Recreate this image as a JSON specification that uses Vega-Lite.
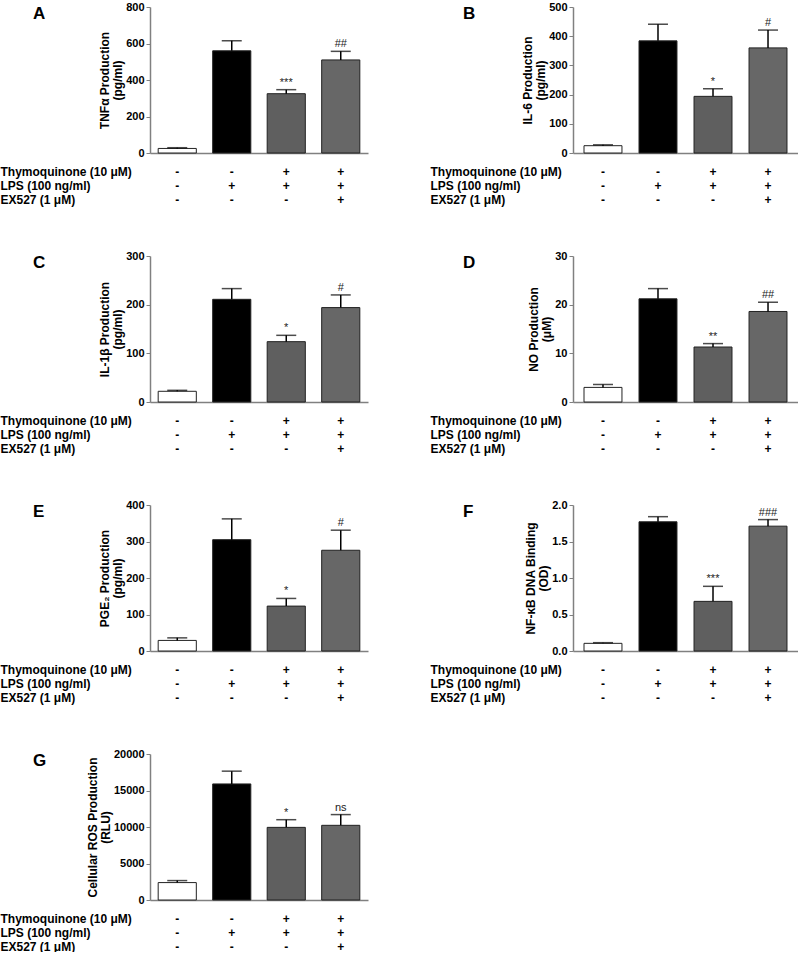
{
  "$schema": "https://vega.github.io/schema/vega-lite/v6.json",
  "padding": {"left": 0, "top": 1, "right": 0, "bottom": 0},
  "background": "white",
  "config": {
    "view": {"stroke": null},
    "font": "Liberation Sans",
    "axis": {"labelFont": "Liberation Sans", "titleFont": "Liberation Sans", "labelFontWeight": "bold", "titleFontWeight": "bold", "labelFontSize": 11, "titleFontSize": 12, "labelColor": "black", "titleColor": "black", "domainColor": "#808080", "tickColor": "#808080", "domainWidth": 1.5, "grid": false},
    "axisX": {"titleAngle": 0, "titleAlign": "left", "titleBaseline": "top", "titleX": -150, "titleY": 13, "titleLineHeight": 14, "labelAngle": 0, "labelFontSize": 12, "labelExpr": "split(datum.value, '|')", "labelLineHeight": 14, "labelBaseline": "top", "labelPadding": 13, "ticks": false},
    "axisY": {"tickSize": 4, "labelPadding": 2, "titlePadding": 1, "titleLineHeight": 13},
    "title": {"font": "Liberation Sans", "fontSize": 17, "fontWeight": "bold", "anchor": "start", "frame": "bounds", "color": "black", "offset": -22, "dx": 33},
    "bar": {"stroke": "#222222", "strokeWidth": 1},
    "text": {"font": "Liberation Sans", "fontSize": 11, "color": "#222222"}
  },
  "data": {"values": [
    {"panel": "A", "group": "-|-|-", "mean": 25, "upper": 29, "sig": ""},
    {"panel": "A", "group": "-|+|-", "mean": 560, "upper": 615, "sig": ""},
    {"panel": "A", "group": "+|+|-", "mean": 325, "upper": 347, "sig": "***"},
    {"panel": "A", "group": "+|+|+", "mean": 510, "upper": 557, "sig": "##"},
    {"panel": "B", "group": "-|-|-", "mean": 25, "upper": 28, "sig": ""},
    {"panel": "B", "group": "-|+|-", "mean": 384, "upper": 441, "sig": ""},
    {"panel": "B", "group": "+|+|-", "mean": 194, "upper": 220, "sig": "*"},
    {"panel": "B", "group": "+|+|+", "mean": 360, "upper": 421, "sig": "#"},
    {"panel": "C", "group": "-|-|-", "mean": 22, "upper": 24, "sig": ""},
    {"panel": "C", "group": "-|+|-", "mean": 211, "upper": 233, "sig": ""},
    {"panel": "C", "group": "+|+|-", "mean": 124, "upper": 137, "sig": "*"},
    {"panel": "C", "group": "+|+|+", "mean": 194, "upper": 220, "sig": "#"},
    {"panel": "D", "group": "-|-|-", "mean": 3.0, "upper": 3.6, "sig": ""},
    {"panel": "D", "group": "-|+|-", "mean": 21.2, "upper": 23.3, "sig": ""},
    {"panel": "D", "group": "+|+|-", "mean": 11.3, "upper": 12.0, "sig": "**"},
    {"panel": "D", "group": "+|+|+", "mean": 18.6, "upper": 20.5, "sig": "##"},
    {"panel": "E", "group": "-|-|-", "mean": 29, "upper": 36, "sig": ""},
    {"panel": "E", "group": "-|+|-", "mean": 305, "upper": 362, "sig": ""},
    {"panel": "E", "group": "+|+|-", "mean": 123, "upper": 144, "sig": "*"},
    {"panel": "E", "group": "+|+|+", "mean": 276, "upper": 331, "sig": "#"},
    {"panel": "F", "group": "-|-|-", "mean": 0.105, "upper": 0.114, "sig": ""},
    {"panel": "F", "group": "-|+|-", "mean": 1.77, "upper": 1.84, "sig": ""},
    {"panel": "F", "group": "+|+|-", "mean": 0.68, "upper": 0.886, "sig": "***"},
    {"panel": "F", "group": "+|+|+", "mean": 1.71, "upper": 1.80, "sig": "###"},
    {"panel": "G", "group": "-|-|-", "mean": 2385, "upper": 2660, "sig": ""},
    {"panel": "G", "group": "-|+|-", "mean": 15900, "upper": 17650, "sig": ""},
    {"panel": "G", "group": "+|+|-", "mean": 9950, "upper": 11000, "sig": "*"},
    {"panel": "G", "group": "+|+|+", "mean": 10230, "upper": 11700, "sig": "ns"}
  ]},
  "columns": 2,
  "align": "each",
  "spacing": {"row": 45, "column": 62},
  "concat": [
    {
      "width": 218, "height": 146,
      "title": {"text": "A"},
      "transform": [{"filter": "datum.panel === 'A'"}],
      "encoding": {"x": {"field": "group", "type": "nominal", "title": ["Thymoquinone (10 μM)", "LPS (100 ng/ml)", "EX527 (1 μM)"], "scale": {"domain": ["-|-|-", "-|+|-", "+|+|-", "+|+|+"], "paddingInner": 0.3, "paddingOuter": 0.15}}},
      "layer": [
        {"mark": "bar", "encoding": {"y": {"field": "mean", "type": "quantitative", "title": ["TNFα Production", "(pg/ml)"], "scale": {"domain": [0, 800]}, "axis": {"values": [0, 200, 400, 600, 800]}}, "fill": {"field": "group", "type": "nominal", "scale": {"domain": ["-|-|-", "-|+|-", "+|+|-", "+|+|+"], "range": ["#ffffff", "#000000", "#5f5f5f", "#676767"]}, "legend": null}}},
        {"mark": {"type": "rule", "color": "black", "strokeWidth": 1.5}, "encoding": {"y": {"field": "mean", "type": "quantitative", "title": ["TNFα Production", "(pg/ml)"], "scale": {"domain": [0, 800]}, "axis": {"values": [0, 200, 400, 600, 800]}}, "y2": {"field": "upper"}}},
        {"mark": {"type": "tick", "color": "black", "size": 20, "thickness": 1.5}, "encoding": {"y": {"field": "upper", "type": "quantitative", "title": ["TNFα Production", "(pg/ml)"], "scale": {"domain": [0, 800]}, "axis": {"values": [0, 200, 400, 600, 800]}}}},
        {"mark": {"type": "text", "baseline": "bottom", "dy": -2}, "encoding": {"y": {"field": "upper", "type": "quantitative", "title": ["TNFα Production", "(pg/ml)"], "scale": {"domain": [0, 800]}, "axis": {"values": [0, 200, 400, 600, 800]}}, "text": {"field": "sig"}}}
      ]
    },
    {
      "width": 225, "height": 146,
      "title": {"text": "B"},
      "transform": [{"filter": "datum.panel === 'B'"}],
      "encoding": {"x": {"field": "group", "type": "nominal", "title": ["Thymoquinone (10 μM)", "LPS (100 ng/ml)", "EX527 (1 μM)"], "scale": {"domain": ["-|-|-", "-|+|-", "+|+|-", "+|+|+"], "paddingInner": 0.31, "paddingOuter": 0.2}, "axis": {"titleX": -143}}},
      "layer": [
        {"mark": "bar", "encoding": {"y": {"field": "mean", "type": "quantitative", "title": ["IL-6 Production", "(pg/ml)"], "scale": {"domain": [0, 500]}, "axis": {"values": [0, 100, 200, 300, 400, 500]}}, "fill": {"field": "group", "type": "nominal", "scale": {"domain": ["-|-|-", "-|+|-", "+|+|-", "+|+|+"], "range": ["#ffffff", "#000000", "#5f5f5f", "#676767"]}, "legend": null}}},
        {"mark": {"type": "rule", "color": "black", "strokeWidth": 1.5}, "encoding": {"y": {"field": "mean", "type": "quantitative", "title": ["IL-6 Production", "(pg/ml)"], "scale": {"domain": [0, 500]}, "axis": {"values": [0, 100, 200, 300, 400, 500]}}, "y2": {"field": "upper"}}},
        {"mark": {"type": "tick", "color": "black", "size": 20, "thickness": 1.5}, "encoding": {"y": {"field": "upper", "type": "quantitative", "title": ["IL-6 Production", "(pg/ml)"], "scale": {"domain": [0, 500]}, "axis": {"values": [0, 100, 200, 300, 400, 500]}}}},
        {"mark": {"type": "text", "baseline": "bottom", "dy": -2}, "encoding": {"y": {"field": "upper", "type": "quantitative", "title": ["IL-6 Production", "(pg/ml)"], "scale": {"domain": [0, 500]}, "axis": {"values": [0, 100, 200, 300, 400, 500]}}, "text": {"field": "sig"}}}
      ]
    },
    {
      "width": 218, "height": 146,
      "title": {"text": "C"},
      "transform": [{"filter": "datum.panel === 'C'"}],
      "encoding": {"x": {"field": "group", "type": "nominal", "title": ["Thymoquinone (10 μM)", "LPS (100 ng/ml)", "EX527 (1 μM)"], "scale": {"domain": ["-|-|-", "-|+|-", "+|+|-", "+|+|+"], "paddingInner": 0.3, "paddingOuter": 0.15}}},
      "layer": [
        {"mark": "bar", "encoding": {"y": {"field": "mean", "type": "quantitative", "title": ["IL-1β Production", "(pg/ml)"], "scale": {"domain": [0, 300]}, "axis": {"values": [0, 100, 200, 300]}}, "fill": {"field": "group", "type": "nominal", "scale": {"domain": ["-|-|-", "-|+|-", "+|+|-", "+|+|+"], "range": ["#ffffff", "#000000", "#5f5f5f", "#676767"]}, "legend": null}}},
        {"mark": {"type": "rule", "color": "black", "strokeWidth": 1.5}, "encoding": {"y": {"field": "mean", "type": "quantitative", "title": ["IL-1β Production", "(pg/ml)"], "scale": {"domain": [0, 300]}, "axis": {"values": [0, 100, 200, 300]}}, "y2": {"field": "upper"}}},
        {"mark": {"type": "tick", "color": "black", "size": 20, "thickness": 1.5}, "encoding": {"y": {"field": "upper", "type": "quantitative", "title": ["IL-1β Production", "(pg/ml)"], "scale": {"domain": [0, 300]}, "axis": {"values": [0, 100, 200, 300]}}}},
        {"mark": {"type": "text", "baseline": "bottom", "dy": -2}, "encoding": {"y": {"field": "upper", "type": "quantitative", "title": ["IL-1β Production", "(pg/ml)"], "scale": {"domain": [0, 300]}, "axis": {"values": [0, 100, 200, 300]}}, "text": {"field": "sig"}}}
      ]
    },
    {
      "width": 225, "height": 146,
      "title": {"text": "D"},
      "transform": [{"filter": "datum.panel === 'D'"}],
      "encoding": {"x": {"field": "group", "type": "nominal", "title": ["Thymoquinone (10 μM)", "LPS (100 ng/ml)", "EX527 (1 μM)"], "scale": {"domain": ["-|-|-", "-|+|-", "+|+|-", "+|+|+"], "paddingInner": 0.31, "paddingOuter": 0.2}, "axis": {"titleX": -143}}},
      "layer": [
        {"mark": "bar", "encoding": {"y": {"field": "mean", "type": "quantitative", "title": ["NO Production", "(μM)"], "scale": {"domain": [0, 30]}, "axis": {"values": [0, 10, 20, 30]}}, "fill": {"field": "group", "type": "nominal", "scale": {"domain": ["-|-|-", "-|+|-", "+|+|-", "+|+|+"], "range": ["#ffffff", "#000000", "#5f5f5f", "#676767"]}, "legend": null}}},
        {"mark": {"type": "rule", "color": "black", "strokeWidth": 1.5}, "encoding": {"y": {"field": "mean", "type": "quantitative", "title": ["NO Production", "(μM)"], "scale": {"domain": [0, 30]}, "axis": {"values": [0, 10, 20, 30]}}, "y2": {"field": "upper"}}},
        {"mark": {"type": "tick", "color": "black", "size": 20, "thickness": 1.5}, "encoding": {"y": {"field": "upper", "type": "quantitative", "title": ["NO Production", "(μM)"], "scale": {"domain": [0, 30]}, "axis": {"values": [0, 10, 20, 30]}}}},
        {"mark": {"type": "text", "baseline": "bottom", "dy": -2}, "encoding": {"y": {"field": "upper", "type": "quantitative", "title": ["NO Production", "(μM)"], "scale": {"domain": [0, 30]}, "axis": {"values": [0, 10, 20, 30]}}, "text": {"field": "sig"}}}
      ]
    },
    {
      "width": 218, "height": 146,
      "title": {"text": "E"},
      "transform": [{"filter": "datum.panel === 'E'"}],
      "encoding": {"x": {"field": "group", "type": "nominal", "title": ["Thymoquinone (10 μM)", "LPS (100 ng/ml)", "EX527 (1 μM)"], "scale": {"domain": ["-|-|-", "-|+|-", "+|+|-", "+|+|+"], "paddingInner": 0.3, "paddingOuter": 0.15}}},
      "layer": [
        {"mark": "bar", "encoding": {"y": {"field": "mean", "type": "quantitative", "title": ["PGE₂ Production", "(pg/ml)"], "scale": {"domain": [0, 400]}, "axis": {"values": [0, 100, 200, 300, 400]}}, "fill": {"field": "group", "type": "nominal", "scale": {"domain": ["-|-|-", "-|+|-", "+|+|-", "+|+|+"], "range": ["#ffffff", "#000000", "#5f5f5f", "#676767"]}, "legend": null}}},
        {"mark": {"type": "rule", "color": "black", "strokeWidth": 1.5}, "encoding": {"y": {"field": "mean", "type": "quantitative", "title": ["PGE₂ Production", "(pg/ml)"], "scale": {"domain": [0, 400]}, "axis": {"values": [0, 100, 200, 300, 400]}}, "y2": {"field": "upper"}}},
        {"mark": {"type": "tick", "color": "black", "size": 20, "thickness": 1.5}, "encoding": {"y": {"field": "upper", "type": "quantitative", "title": ["PGE₂ Production", "(pg/ml)"], "scale": {"domain": [0, 400]}, "axis": {"values": [0, 100, 200, 300, 400]}}}},
        {"mark": {"type": "text", "baseline": "bottom", "dy": -2}, "encoding": {"y": {"field": "upper", "type": "quantitative", "title": ["PGE₂ Production", "(pg/ml)"], "scale": {"domain": [0, 400]}, "axis": {"values": [0, 100, 200, 300, 400]}}, "text": {"field": "sig"}}}
      ]
    },
    {
      "width": 225, "height": 146,
      "title": {"text": "F"},
      "transform": [{"filter": "datum.panel === 'F'"}],
      "encoding": {"x": {"field": "group", "type": "nominal", "title": ["Thymoquinone (10 μM)", "LPS (100 ng/ml)", "EX527 (1 μM)"], "scale": {"domain": ["-|-|-", "-|+|-", "+|+|-", "+|+|+"], "paddingInner": 0.31, "paddingOuter": 0.2}, "axis": {"titleX": -143}}},
      "layer": [
        {"mark": "bar", "encoding": {"y": {"field": "mean", "type": "quantitative", "title": ["NF-κB DNA Binding", "(OD)"], "scale": {"domain": [0, 2]}, "axis": {"values": [0, 0.5, 1, 1.5, 2], "format": ".1f"}}, "fill": {"field": "group", "type": "nominal", "scale": {"domain": ["-|-|-", "-|+|-", "+|+|-", "+|+|+"], "range": ["#ffffff", "#000000", "#5f5f5f", "#676767"]}, "legend": null}}},
        {"mark": {"type": "rule", "color": "black", "strokeWidth": 1.5}, "encoding": {"y": {"field": "mean", "type": "quantitative", "title": ["NF-κB DNA Binding", "(OD)"], "scale": {"domain": [0, 2]}, "axis": {"values": [0, 0.5, 1, 1.5, 2], "format": ".1f"}}, "y2": {"field": "upper"}}},
        {"mark": {"type": "tick", "color": "black", "size": 20, "thickness": 1.5}, "encoding": {"y": {"field": "upper", "type": "quantitative", "title": ["NF-κB DNA Binding", "(OD)"], "scale": {"domain": [0, 2]}, "axis": {"values": [0, 0.5, 1, 1.5, 2], "format": ".1f"}}}},
        {"mark": {"type": "text", "baseline": "bottom", "dy": -2}, "encoding": {"y": {"field": "upper", "type": "quantitative", "title": ["NF-κB DNA Binding", "(OD)"], "scale": {"domain": [0, 2]}, "axis": {"values": [0, 0.5, 1, 1.5, 2], "format": ".1f"}}, "text": {"field": "sig"}}}
      ]
    },
    {
      "width": 218, "height": 146,
      "title": {"text": "G"},
      "transform": [{"filter": "datum.panel === 'G'"}],
      "encoding": {"x": {"field": "group", "type": "nominal", "title": ["Thymoquinone (10 μM)", "LPS (100 ng/ml)", "EX527 (1 μM)"], "scale": {"domain": ["-|-|-", "-|+|-", "+|+|-", "+|+|+"], "paddingInner": 0.3, "paddingOuter": 0.15}}},
      "layer": [
        {"mark": "bar", "encoding": {"y": {"field": "mean", "type": "quantitative", "title": ["Cellular ROS Production", "(RLU)"], "scale": {"domain": [0, 20000]}, "axis": {"values": [0, 5000, 10000, 15000, 20000], "format": "d"}}, "fill": {"field": "group", "type": "nominal", "scale": {"domain": ["-|-|-", "-|+|-", "+|+|-", "+|+|+"], "range": ["#ffffff", "#000000", "#5f5f5f", "#676767"]}, "legend": null}}},
        {"mark": {"type": "rule", "color": "black", "strokeWidth": 1.5}, "encoding": {"y": {"field": "mean", "type": "quantitative", "title": ["Cellular ROS Production", "(RLU)"], "scale": {"domain": [0, 20000]}, "axis": {"values": [0, 5000, 10000, 15000, 20000], "format": "d"}}, "y2": {"field": "upper"}}},
        {"mark": {"type": "tick", "color": "black", "size": 20, "thickness": 1.5}, "encoding": {"y": {"field": "upper", "type": "quantitative", "title": ["Cellular ROS Production", "(RLU)"], "scale": {"domain": [0, 20000]}, "axis": {"values": [0, 5000, 10000, 15000, 20000], "format": "d"}}}},
        {"mark": {"type": "text", "baseline": "bottom", "dy": -2}, "encoding": {"y": {"field": "upper", "type": "quantitative", "title": ["Cellular ROS Production", "(RLU)"], "scale": {"domain": [0, 20000]}, "axis": {"values": [0, 5000, 10000, 15000, 20000], "format": "d"}}, "text": {"field": "sig"}}}
      ]
    }
  ]
}
